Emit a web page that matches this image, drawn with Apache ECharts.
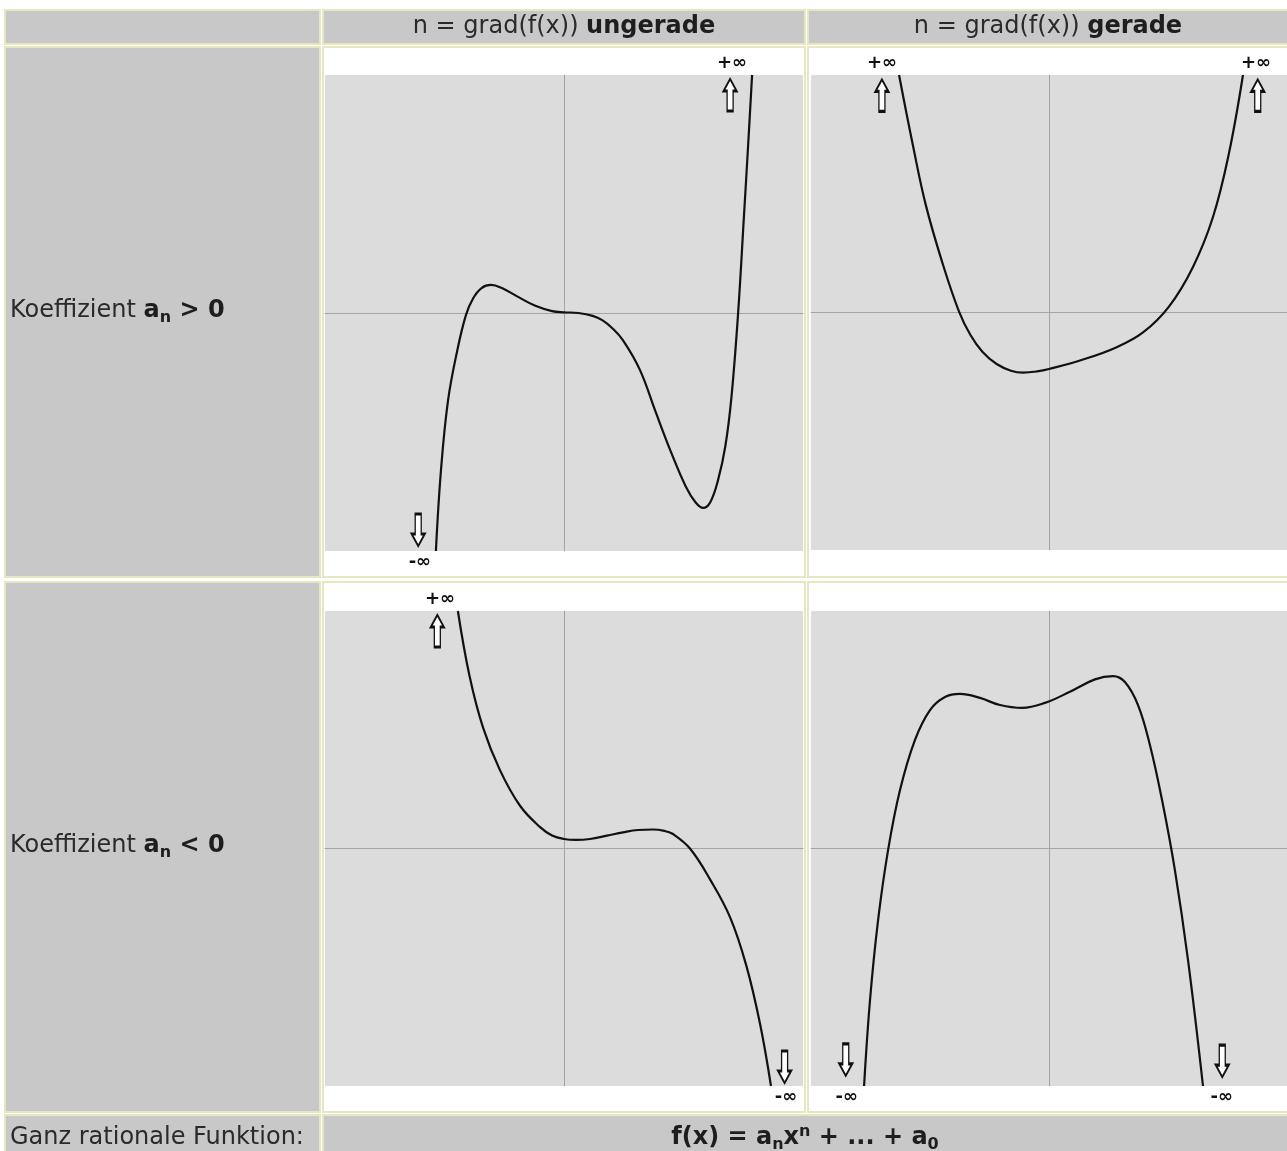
<!DOCTYPE html>
<html><head><meta charset="utf-8">
<script src="https://cdn.jsdelivr.net/npm/echarts/dist/echarts.min.js"></script>
<style>html,body{margin:0;padding:0;background:#fff;}#c{width:1287px;height:1151px;}</style>
</head><body><div id="c"></div>
<script>
// ---- data (axis units: -10..10 across each gray plot area) ----
const p1X = [-5.36,-5.15,-4.85,-4.45,-4.10,-3.80,-3.45,-3.05,-2.60,-2.00,-1.20,-0.50,0,0.60,1.20,1.60,2.00,2.47,3.18,3.85,4.50,5.10,5.50,5.82,6.12,6.45,6.75,7.00,7.28,7.53,7.70,7.87];
const p1Y = [-10,-6.64,-3.66,-1.50,-0.08,0.62,1.05,1.18,1.05,0.72,0.30,0.08,0.03,0.00,-0.12,-0.30,-0.62,-1.15,-2.40,-4.20,-5.90,-7.30,-7.95,-8.19,-7.95,-7.00,-5.60,-3.60,-0.08,4.08,6.97,10];

const p2X = [-6.30,-5.71,-5.17,-4.45,-3.78,-3.30,-2.80,-2.20,-1.60,-1.09,-0.50,0,1.43,2.82,3.95,5.04,6.05,6.89,7.56,8.15];
const p2Y = [10,7.00,4.50,2.00,0.04,-0.95,-1.65,-2.17,-2.45,-2.53,-2.48,-2.38,-1.98,-1.47,-0.84,0.25,1.92,4.02,6.70,10];

const p3X = [-4.44,-3.95,-3.39,-2.68,-1.84,-1.00,-0.50,0,0.50,1.09,1.80,2.47,3.10,3.72,4.20,4.56,5.27,6.11,6.95,7.62,8.20,8.66];
const p3Y = [10,7.25,5.10,3.30,1.80,0.90,0.55,0.40,0.36,0.40,0.54,0.68,0.78,0.80,0.74,0.61,0.00,-1.30,-2.90,-4.90,-7.37,-10];

const p4X = [-7.77,-7.52,-7.18,-6.76,-6.26,-5.63,-5.00,-4.37,-3.74,-2.90,-2.06,-1.13,-0.17,0.88,1.93,2.69,3.19,3.74,4.24,4.75,5.29,5.84,6.47];
const p4Y = [-10,-6.38,-3.01,-0.06,2.46,4.57,5.83,6.38,6.51,6.34,6.04,5.92,6.13,6.60,7.12,7.26,7.01,6.04,4.36,2.04,-0.91,-4.69,-10];

// arrows: [x, y, direction]
const arrowsP1 = [[6.95, 9.16, 'up'], [-6.10, -9.12, 'down']];
const arrowsP2 = [[-7.02, 9.14, 'up'], [8.77, 9.14, 'up']];
const arrowsP3 = [[-5.30, 9.16, 'up'], [9.23, -9.20, 'down']];
const arrowsP4 = [[-8.54, -8.90, 'down'], [7.28, -8.95, 'down']];
// limit labels: [x, edge, text]
const limitsP1 = [[7.03, 'top', '+∞'], [-6.03, 'bottom', '-∞']];
const limitsP2 = [[-7.02, 'top', '+∞'], [8.70, 'top', '+∞']];
const limitsP3 = [[-5.19, 'top', '+∞'], [9.29, 'bottom', '-∞']];
const limitsP4 = [[-8.50, 'bottom', '-∞'], [7.26, 'bottom', '-∞']];

const columnHeads = ['ungerade', 'gerade'];
const rowSigns = ['>', '<'];
const footerLabel = 'Ganz rationale Funktion:';

// ---- chart ----
const FONT = 'DejaVu Sans';
const UP = 'path://M6.5,0 L13,12 L9.5,12 L9.5,32 L3.5,32 L3.5,12 L0,12 Z';
const DOWN = 'path://M3.5,0 L9.5,0 L9.5,20 L13,20 L6.5,32 L0,20 L3.5,20 Z';

const panels = [
  {grid:{left:325, top:75, width:478, height:476}, x:p1X, y:p1Y, arrows:arrowsP1, limits:limitsP1},
  {grid:{left:811, top:75, width:476, height:475}, x:p2X, y:p2Y, arrows:arrowsP2, limits:limitsP2},
  {grid:{left:325, top:611, width:478, height:475}, x:p3X, y:p3Y, arrows:arrowsP3, limits:limitsP3},
  {grid:{left:811, top:611, width:476, height:475}, x:p4X, y:p4Y, arrows:arrowsP4, limits:limitsP4}
];

const grids = [], xAxes = [], yAxes = [], series = [];
panels.forEach((p, i) => {
  grids.push(Object.assign({show:true, backgroundColor:'#dcdcdc', borderWidth:0}, p.grid));
  const ax = {gridIndex:i, type:'value', min:-10, max:10,
    axisLine:{show:true, onZero:true, lineStyle:{color:'#a4a4a4', width:1}},
    axisTick:{show:false}, axisLabel:{show:false}, splitLine:{show:false}};
  xAxes.push(Object.assign({}, ax));
  yAxes.push(Object.assign({}, ax));
  const mp = [];
  p.arrows.forEach(a => mp.push({coord:[a[0], a[1]], symbol: a[2] === 'up' ? UP : DOWN,
    symbolSize:[13, 32], itemStyle:{color:'#ffffff', borderColor:'#111', borderWidth:2},
    label:{show:false}}));
  p.limits.forEach(l => mp.push({coord:[l[0], l[1] === 'top' ? 10 : -10], symbol:'circle',
    symbolSize:1, itemStyle:{color:'rgba(0,0,0,0)'},
    label:{show:true, position:l[1], distance:2, formatter:l[2], color:'#111',
      fontSize:18, fontWeight:'bold', fontFamily:FONT}}));
  series.push({type:'line', xAxisIndex:i, yAxisIndex:i, z:5,
    data:p.x.map((v, k) => [v, p.y[k]]), smooth:0.4, showSymbol:false, symbol:'none',
    lineStyle:{color:'#111', width:2.2}, silent:true, clip:true,
    markPoint:{silent:true, animation:false, data:mp}});
});

const GRAY = '#c8c8c8', BORDER = '#e6e6c0';
function cell(x, y, w, h, fill) {
  return {type:'rect', shape:{x, y, width:w, height:h}, silent:true,
    style:{fill: fill || 'none', stroke:BORDER, lineWidth:2}};
}
const richBase = {
  n:{fontSize:24, fontFamily:FONT, fill:'#2a2a2a', color:'#2a2a2a'},
  b:{fontSize:24, fontFamily:FONT, fontWeight:'bold', fill:'#1e1e1e', color:'#1e1e1e'},
  s:{fontSize:16, fontFamily:FONT, fontWeight:'bold', fill:'#1e1e1e', color:'#1e1e1e', padding:[13,0,0,0]},
  p:{fontSize:16, fontFamily:FONT, fontWeight:'bold', fill:'#1e1e1e', color:'#1e1e1e', padding:[0,0,13,0]}
};
function txt(x, y, text, align) {
  return {type:'text', x, y, silent:true,
    style:{text, rich:richBase, align:align, verticalAlign:'middle', fontFamily:FONT, fontSize:24}};
}

const elements = [
  cell(5, 10, 315, 34, GRAY), cell(323, 10, 482, 34, GRAY), cell(808, 10, 484, 34, GRAY),
  cell(5, 47, 315, 530, GRAY), cell(5, 582, 315, 530, GRAY),
  cell(5, 1115, 315, 40, GRAY), cell(323, 1115, 970, 40, GRAY),
  cell(323, 47, 482, 530), cell(808, 47, 484, 530),
  cell(323, 582, 482, 530), cell(808, 582, 484, 530),
  txt(564, 27, '{n|n = grad(f(x)) }{b|' + columnHeads[0] + '}', 'center'),
  txt(1048, 27, '{n|n = grad(f(x)) }{b|' + columnHeads[1] + '}', 'center'),
  txt(10, 311, '{n|Koeffizient }{b|a}{s|n}{b| ' + rowSigns[0] + ' 0}', 'left'),
  txt(10, 846, '{n|Koeffizient }{b|a}{s|n}{b| ' + rowSigns[1] + ' 0}', 'left'),
  txt(10, 1138, '{n|' + footerLabel + '}', 'left'),
  txt(805, 1138, '{b|f(x) = a}{s|n}{b|x}{p|n}{b| + ... + a}{s|0}', 'center')
];

const chart = echarts.init(document.getElementById('c'), null, {renderer:'canvas'});
chart.setOption({
  animation:false,
  backgroundColor:'#ffffff',
  grid:grids, xAxis:xAxes, yAxis:yAxes, series:series,
  graphic:{elements:elements}
});
</script></body></html>
